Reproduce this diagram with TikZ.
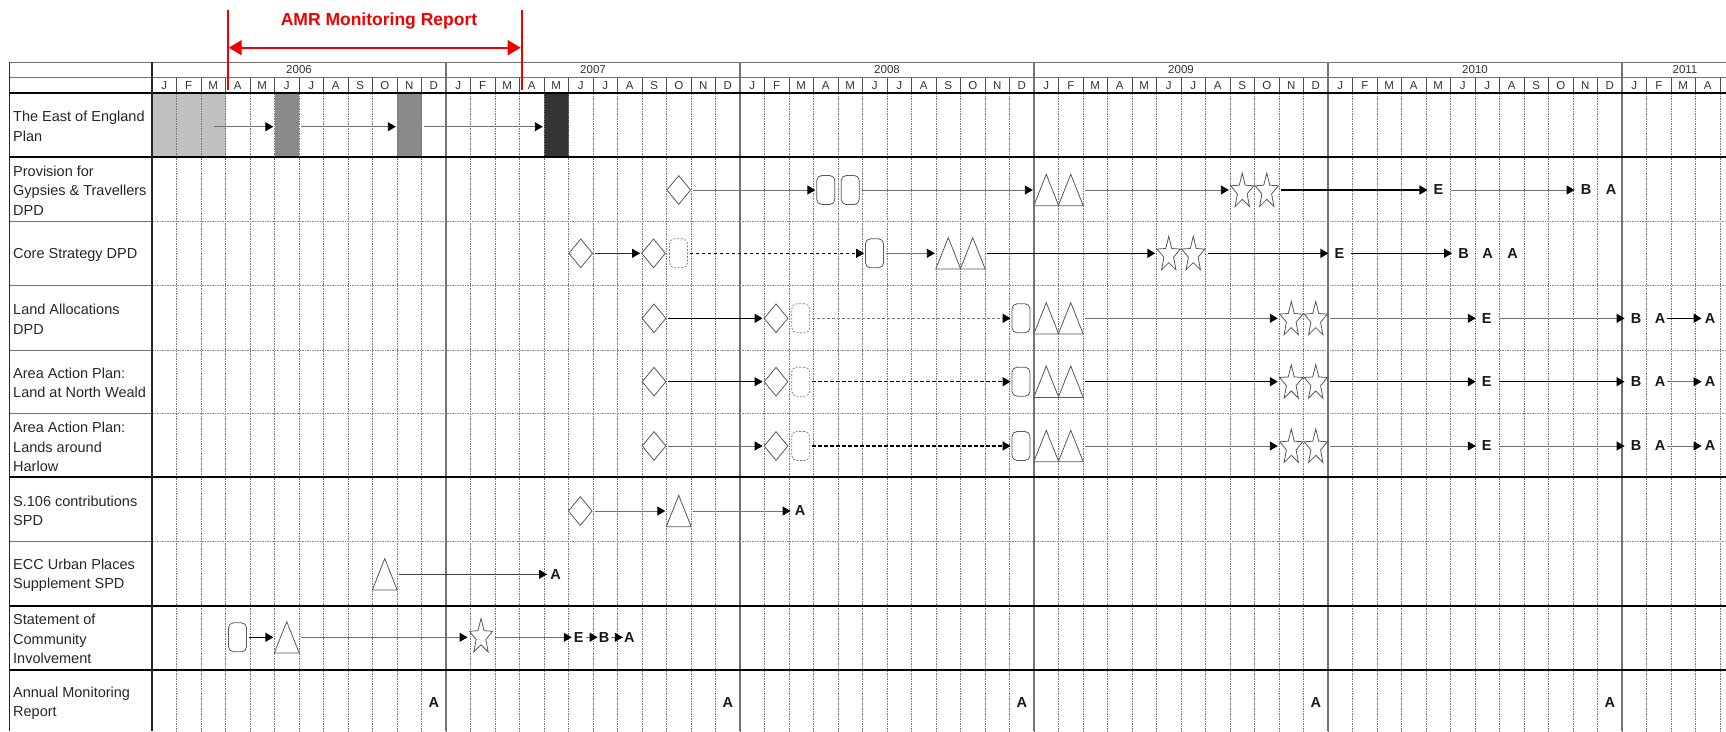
\documentclass[tikz,border=0pt]{standalone}
\usepackage{fontspec}
\setmainfont{Liberation Sans}
\usetikzlibrary{shapes.geometric,arrows.meta,calc}
\definecolor{barlight}{HTML}{C0C0C0}
\definecolor{barmid}{HTML}{8A8A8A}
\definecolor{bardark}{HTML}{333333}
\definecolor{amrred}{HTML}{F00000}
\tikzset{
  lbl/.style={anchor=west, align=left, inner sep=0pt, font=\fontsize{14.5}{19.4}\selectfont, text=black!85},
  hdr/.style={inner sep=0pt, font=\fontsize{11.5}{12}\selectfont, text=black!80},
  lett/.style={inner ysep=1pt, inner xsep=#1, font=\fontsize{14.5}{16}\selectfont\bfseries, text=black!90},
  lett/.default=5pt,
  shp/.style={draw=black!65, line width=0.8pt},
  dia/.style={shp, fill=white, diamond, inner sep=0pt, minimum width=24pt, minimum height=29pt},
  capsule/.style={shp, fill=white, rectangle, rounded corners=5pt, inner sep=0pt, minimum width=18pt, minimum height=29pt},
  capsuled/.style={capsule, draw=black!50, dash pattern=on 2pt off 1.5pt},
  tribox/.style={rectangle, inner sep=0pt, minimum width=24.5pt, minimum height=31pt},
  starbox/.style={rectangle, inner sep=0pt, minimum width=24.5pt, minimum height=34pt},
  barbox/.style={rectangle, draw=none, inner sep=0pt, minimum width=24.5pt, minimum height=63.4pt},
  cn/.style={draw=black!55, line width=0.9pt, -{Triangle[length=8pt,width=9pt,color=black]}, shorten <=2pt, shorten >=1pt},
  cnb/.style={draw=black, line width=1.5pt, -{Triangle[length=8pt,width=9pt,color=black]}, shorten <=2pt, shorten >=1pt},
  cnd/.style={cn, dash pattern=on 3pt off 2pt},
  cndb/.style={cnb, line width=1.3pt, dash pattern=on 3.5pt off 2.5pt},
  mline/.style={draw=black!55, line width=0.7pt, dash pattern=on 1.5pt off 1pt},
  rowdot/.style={draw=black!45, line width=0.8pt, dash pattern=on 1.5pt off 1pt},
  yline/.style={draw=black!55, line width=1.2pt},
  thickline/.style={draw=black, line width=2.3pt},
  thinline/.style={draw=black!55, line width=1pt},
  redline/.style={draw=amrred, line width=2pt}
}
\newcommand\mytri[1]{\draw[shp,fill=white] (#1.south west) -- (#1.north) -- (#1.south east) -- cycle;}
\newcommand\mystar[1]{\draw[shp,fill=white,shift={($(#1.center)+(0,1.5)$)}] (-90:12.2 and 18.5) -- (-54:5.1 and 7.8) -- (-18:12.2 and 18.5) -- (18:5.1 and 7.8) -- (54:12.2 and 18.5) -- (90:5.1 and 7.8) -- (126:12.2 and 18.5) -- (162:5.1 and 7.8) -- (198:12.2 and 18.5) -- (234:5.1 and 7.8) -- cycle;}
\begin{document}
\begin{tikzpicture}[x=1pt,y=-1pt]
\useasboundingbox (0,0) rectangle (1726,731);
\clip (0,0) rectangle (1726,731);

% ---- East of England bars
\node[barbox, fill=barlight, minimum width=73.5pt] (e1) at (188.75,125) {};
\node[barbox, fill=barmid] (e2) at (286.75,125) {};
\node[barbox, fill=barmid] (e3) at (409.25,125) {};
\node[barbox, fill=bardark] (e4) at (556.25,125) {};

% ---- grid
\foreach \m in {1,...,64}{
  \draw[mline] ({152+24.5*\m},93.3) -- ({152+24.5*\m},731);
  \draw[draw=black!70, line width=0.8pt] ({152+24.5*\m},77.7) -- ({152+24.5*\m},93.3);
}
\foreach \m in {12,24,36,48,60}{
  \draw[yline] ({152+24.5*\m},62.3) -- ({152+24.5*\m},731);
}
\draw[thinline] (9.5,62.3) -- (1726,62.3);
\draw[thinline] (9.5,77.7) -- (1726,77.7);
\foreach \y in {221,285.7,350,413.3,541.7}{
  \draw[rowdot] (152,\y) -- (1726,\y);
  \draw[thinline] (9.5,\y) -- (152,\y);
}
\foreach \y in {93.3,156.7,477,606,670}{
  \draw[thickline] (9.5,\y) -- (1726,\y);
}
\draw[draw=black!85, line width=1.3pt] (9.5,62.3) -- (9.5,731);
\draw[draw=black!85, line width=1.5pt] (152,62.3) -- (152,731);

% ---- header text
\node[hdr] (y2006) at (299,70) {2006};
\node[hdr] (y2007) at (593,70) {2007};
\node[hdr] (y2008) at (887,70) {2008};
\node[hdr] (y2009) at (1181,70) {2009};
\node[hdr] (y2010) at (1475,70) {2010};
\node[hdr] (y2011) at (1685,70) {2011};
\foreach \l [count=\i from 0] in {J,F,M,A,M,J,J,A,S,O,N,D,J,F,M,A,M,J,J,A,S,O,N,D,J,F,M,A,M,J,J,A,S,O,N,D,J,F,M,A,M,J,J,A,S,O,N,D,J,F,M,A,M,J,J,A,S,O,N,D,J,F,M,A}{
  \node[hdr] (mo\i) at ({164.25+24.5*\i},85.7) {\l};
}

% ---- row labels
\node[lbl] (t1) at (13,126.3) {The East of England\\Plan};
\node[lbl] (t2) at (13,190.5) {Provision for\\Gypsies \& Travellers\\DPD};
\node[lbl] (t3) at (13,255) {Core Strategy DPD};
\node[lbl] (t4) at (13,319.2) {Land Allocations\\DPD};
\node[lbl] (t5) at (13,382.7) {Area Action Plan:\\Land at North Weald};
\node[lbl] (t6) at (13,447.2) {Area Action Plan:\\Lands around\\Harlow};
\node[lbl] (t7) at (13,510.9) {S.106 contributions\\SPD};
\node[lbl] (t8) at (13,575.5) {ECC Urban Places\\Supplement SPD};
\node[lbl] (t9) at (13,638.9) {Statement of\\Community\\Involvement};
\node[lbl] (t10) at (13,703) {Annual Monitoring\\Report};

% ---- East of England arrows
\coordinate (es) at (213.5,126.7);
\draw[cn, shorten <=0pt] (es) -- (e2.west |- es);
\draw[cn] (e2.east |- es) -- (e3.west |- es);
\draw[cn] (e3.east |- es) -- (e4.west |- es);

% ---- Provision for Gypsies & Travellers
\node[dia] (P1) at (678.75,190) {};
\node[capsule] (P2) at (825.75,190) {};
\node[capsule] (P3) at (850.25,190) {};
\node[tribox] (P4) at (1046.25,190) {};
\node[tribox] (P5) at (1070.75,190) {};
\node[starbox] (P6) at (1242.25,190) {};
\node[starbox] (P7) at (1266.75,190) {};
\node[lett] (PE) at (1438.5,190) {E};
\node[lett] (PB) at (1586,190) {B};
\node[lett] (PA) at (1611,190) {A};
\mytri{P4}\mytri{P5}\mystar{P6}\mystar{P7}
\draw[cn] (P1.east) -- (P2.west);
\draw[cn] (P3.east) -- (P4.west);
\draw[cn] (P5.east) -- (P6.west);
\draw[cnb] (P7.east) -- (PE.west);
\draw[cn] (PE.east) -- (PB.west);

% ---- Core Strategy
\node[dia] (C1) at (580.75,253.3) {};
\node[dia] (C2) at (653.5,253.3) {};
\node[capsuled] (C3) at (678.5,253.3) {};
\node[capsule] (C4) at (874.5,253.3) {};
\node[tribox] (C5) at (948.25,253.3) {};
\node[tribox] (C6) at (972.75,253.3) {};
\node[starbox] (C7) at (1168.75,253.3) {};
\node[starbox] (C8) at (1193.25,253.3) {};
\node[lett] (CE) at (1339.4,253.3) {E};
\node[lett] (CB) at (1463.5,253.3) {B};
\node[lett] (CA1) at (1487.5,253.3) {A};
\node[lett] (CA2) at (1512.5,253.3) {A};
\mytri{C5}\mytri{C6}\mystar{C7}\mystar{C8}
\draw[cn, draw=black!80] (C1.east) -- (C2.west);
\draw[cndb] (C3.east) -- (C4.west);
\draw[cn] (C4.east) -- (C5.west);
\draw[cnb] (C6.east) -- (C7.west);
\draw[cnb] (C8.east) -- (CE.west);
\draw[cnb] (CE.east) -- (CB.west);

% ---- Land Allocations
\node[dia] (L1) at (654,318.3) {};
\node[dia] (L2) at (776,318.3) {};
\node[capsuled] (L3) at (800.7,318.3) {};
\node[capsule] (L4) at (1021,318.3) {};
\node[tribox] (L5) at (1046.25,318.3) {};
\node[tribox] (L6) at (1070.75,318.3) {};
\node[starbox] (L7) at (1291.25,318.3) {};
\node[starbox] (L8) at (1315.75,318.3) {};
\node[lett] (LE) at (1486.8,318.3) {E};
\node[lett] (LB) at (1636,318.3) {B};
\node[lett=2pt] (LA1) at (1660,318.3) {A};
\node[lett=2pt] (LA2) at (1710,318.3) {A};
\mytri{L5}\mytri{L6}\mystar{L7}\mystar{L8}
\draw[cnb, line width=1.2pt] (L1.east) -- (L2.west);
\draw[cnd] (L3.east) -- (L4.west);
\draw[cn] (L6.east) -- (L7.west);
\draw[cn] (L8.east) -- (LE.west);
\draw[cn] (LE.east) -- (LB.west);
\draw[cnb, line width=1.2pt, shorten <=0pt] (LA1.east) -- (LA2.west);

% ---- AAP North Weald
\node[dia] (N1) at (654,381.7) {};
\node[dia] (N2) at (776,381.7) {};
\node[capsuled] (N3) at (800.7,381.7) {};
\node[capsule] (N4) at (1021,381.7) {};
\node[tribox] (N5) at (1046.25,381.7) {};
\node[tribox] (N6) at (1070.75,381.7) {};
\node[starbox] (N7) at (1291.25,381.7) {};
\node[starbox] (N8) at (1315.75,381.7) {};
\node[lett] (NE) at (1486.8,381.7) {E};
\node[lett] (NB) at (1636,381.7) {B};
\node[lett=2pt] (NA1) at (1660,381.7) {A};
\node[lett=2pt] (NA2) at (1710,381.7) {A};
\mytri{N5}\mytri{N6}\mystar{N7}\mystar{N8}
\draw[cnb] (N1.east) -- (N2.west);
\draw[cndb] (N3.east) -- (N4.west);
\draw[cnb] (N6.east) -- (N7.west);
\draw[cnb] (N8.east) -- (NE.west);
\draw[cnb] (NE.east) -- (NB.west);
\draw[cn, shorten <=0pt] (NA1.east) -- (NA2.west);

% ---- AAP Lands around Harlow
\node[dia] (H1) at (654,446) {};
\node[dia] (H2) at (776,446) {};
\node[capsuled] (H3) at (800.7,446) {};
\node[capsule] (H4) at (1021,446) {};
\node[tribox] (H5) at (1046.25,446) {};
\node[tribox] (H6) at (1070.75,446) {};
\node[starbox] (H7) at (1291.25,446) {};
\node[starbox] (H8) at (1315.75,446) {};
\node[lett] (HE) at (1486.8,446) {E};
\node[lett] (HB) at (1636,446) {B};
\node[lett=2pt] (HA1) at (1660,446) {A};
\node[lett=2pt] (HA2) at (1710,446) {A};
\mytri{H5}\mytri{H6}\mystar{H7}\mystar{H8}
\draw[cn] (H1.east) -- (H2.west);
\draw[cndb] (H3.east) -- (H4.west);
\draw[cn] (H6.east) -- (H7.west);
\draw[cn] (H8.east) -- (HE.west);
\draw[cn] (HE.east) -- (HB.west);
\draw[cn, shorten <=0pt] (HA1.east) -- (HA2.west);

% ---- S.106
\node[dia] (S1) at (580.25,511) {};
\node[tribox] (S2) at (678.75,511) {};
\node[lett=3pt] (SA) at (800,511) {A};
\mytri{S2}
\draw[cn] (S1.east) -- (S2.west);
\draw[cn] (S2.east) -- (SA.west);

% ---- ECC Urban Places
\node[tribox] (U1) at (384.75,574.3) {};
\node[lett=2pt] (UA) at (555.5,574.3) {A};
\mytri{U1}
\draw[cn, draw=black!75] (U1.east) -- (UA.west);

% ---- Statement of Community Involvement
\node[capsule] (Q1) at (237.5,637.3) {};
\node[tribox] (Q2) at (286.75,637.3) {};
\node[starbox] (Q3) at (481,635.5) {};
\node[lett=1pt] (QE) at (578.8,637.3) {E};
\node[lett=1pt] (QB) at (604,637.3) {B};
\node[lett=1pt] (QA) at (629.3,637.3) {A};
\mytri{Q2}\mystar{Q3}
\draw[cnb] (Q1.east) -- (Q2.west);
\draw[cn] (Q2.east) -- (Q3.west |- Q2.east);
\draw[cn] (Q3.east |- QE.west) -- (QE.west);
\draw[cn, shorten <=1pt, shorten >=0pt] (QE.east) -- (QB.west);
\draw[cn, shorten <=1pt, shorten >=0pt] (QB.east) -- (QA.west);

% ---- Annual Monitoring Report
\node[lett] (M1) at (433.75,702.7) {A};
\node[lett] (M2) at (727.75,702.7) {A};
\node[lett] (M3) at (1021.75,702.7) {A};
\node[lett] (M4) at (1315.75,702.7) {A};
\node[lett] (M5) at (1609.75,702.7) {A};

% ---- AMR monitoring report annotation
\coordinate (rlt) at (227.7,10);
\coordinate (rlb) at (227.7,90);
\coordinate (rrt) at (521.6,10);
\coordinate (rrb) at (521.6,90);
\coordinate (rl) at (228.7,47.7);
\coordinate (rr) at (520.6,47.7);
\draw[redline] (rlt) -- (rlb);
\draw[redline] (rrt) -- (rrb);
\draw[redline, {Triangle[length=13pt,width=15pt]}-{Triangle[length=13pt,width=15pt]}] (rl) -- (rr);
\node[text=amrred, inner sep=0pt, font=\fontsize{17.5}{20}\selectfont\bfseries] (amr) at (379,20.7) {AMR Monitoring Report};
\end{tikzpicture}
\end{document}
